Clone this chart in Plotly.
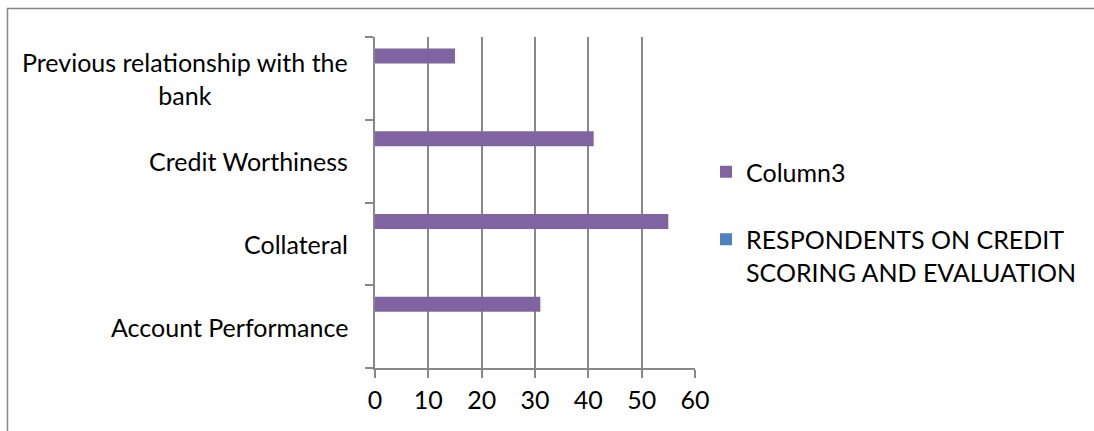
import plotly.graph_objects as go

# Categories listed bottom-to-top along the vertical axis
categories = [
    "Account Performance",
    "Collateral",
    "Credit Worthiness",
    "Previous relationship with the<br>bank",
]
column3 = [31, 55, 41, 15]
respondents = [None, None, None, None]
x_ticks = [0, 10, 20, 30, 40, 50, 60]

FONT = "Lato"
FS = 25
GRID = "#888888"

W, H = 1094, 431
L, R, T, B = 375, 399, 37, 63
pw, ph = W - L - R, H - T - B


def px_x(px):
    return (px - L) / pw


def px_y(py):
    return (H - B - py) / ph


fig = go.Figure()

fig.add_trace(go.Bar(
    name="Column3",
    y=categories, x=column3, orientation="h",
    marker=dict(color="#8064A2", line=dict(width=0)),
    offset=0.18, width=0.18,
    legendgroup="a",
))
fig.add_trace(go.Bar(
    name="RESPONDENTS ON CREDIT<br>SCORING AND EVALUATION",
    y=categories, x=respondents, orientation="h",
    marker=dict(color="#4F81BD", line=dict(width=0)),
    offset=0.0, width=0.18,
    legendgroup="b",
))

# Category labels, centred line-by-line and right-aligned against the axis
annotations = []
for cat in categories:
    annotations.append(dict(
        x=px_x(350), xref="paper", y=cat, yref="y",
        text=cat, showarrow=False, xanchor="right", yanchor="middle",
        align="center", font=dict(family=FONT, size=FS, color="#000000"),
    ))

fig.update_layout(
    width=W, height=H,
    margin=dict(l=L, r=R, t=T, b=B, pad=0),
    paper_bgcolor="white", plot_bgcolor="white",
    barmode="overlay",
    font=dict(family=FONT, size=FS, color="#000000"),
    xaxis=dict(
        range=[0, 60], tickvals=x_ticks, ticktext=[str(v) for v in x_ticks],
        showgrid=True, gridcolor=GRID, gridwidth=1.5,
        zeroline=False, showline=True, linecolor=GRID, linewidth=1.5,
        ticks="outside", ticklen=8, tickcolor=GRID, tickwidth=1.5,
        ticklabelstandoff=1,
        tickfont=dict(family=FONT, size=FS, color="#000000"),
        fixedrange=True,
    ),
    yaxis=dict(
        type="category", categoryorder="array", categoryarray=categories,
        range=[-0.5, 3.5], showgrid=False, zeroline=False,
        showline=True, linecolor=GRID, linewidth=1.5,
        ticks="outside", ticklen=8, tickcolor=GRID, tickwidth=1.5,
        tickson="boundaries", showticklabels=False,
        fixedrange=True,
    ),
    legend=dict(
        x=px_x(706), y=px_y(149), xanchor="left", yanchor="top",
        traceorder="grouped", valign="top", tracegroupgap=32,
        bgcolor="rgba(0,0,0,0)", borderwidth=0,
        font=dict(family=FONT, size=FS, color="#000000"),
    ),
    annotations=annotations,
    shapes=[dict(
        type="rect", xref="paper", yref="paper",
        x0=px_x(7.5), x1=px_x(W + 20), y0=px_y(H + 20), y1=px_y(8.5),
        line=dict(color="#868686", width=1.5), fillcolor="rgba(0,0,0,0)",
        layer="below",
    )],
)

fig.write_html("out.html")
